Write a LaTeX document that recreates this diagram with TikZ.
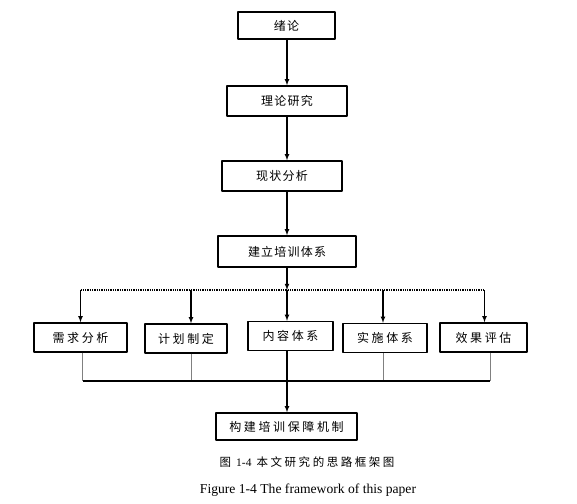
\documentclass[tikz,border=0pt]{standalone}
\usepackage{fontspec}
\setmainfont{Liberation Serif}
\newfontfamily\cjk[LetterSpace=10]{Noto Sans CJK SC}
\newfontfamily\cjkbreed[LetterSpace=22]{Noto Sans CJK SC}
\usetikzlibrary{calc}

\begin{document}
\begin{tikzpicture}[x=1pt, y=-1pt, line join=round, >=latex,
    blok/.style={draw, line width=1.4pt, inner sep=0pt, minimum height=29pt,
      font=\cjk\fontsize{12}{14}\selectfont},
    rijblok/.style={blok, font=\cjkbreed\fontsize{12}{14}\selectfont},
    pijl/.style={->, line width=1.1pt},
    stippel/.style={densely dotted, line width=1.3pt},
    grijs/.style={line width=1pt, gray},
    bundellijn/.style={line width=1.6pt}]
        \useasboundingbox (0,0) rectangle (577,503);

        % Hulpcoordinaten
        \coordinate (as) at (287,0);
        \coordinate (splits) at (287,290);
        \coordinate (bundel) at (287,381);

        % Hoofdlijn
        \node[blok, minimum width=97pt, minimum height=27pt] (inleiding) at (286.5,25.5) {绪论};
        \node[blok, minimum width=120pt, minimum height=30pt] (theorie) at (287,101) {理论研究};
        \node[blok, minimum width=120pt, minimum height=30pt] (huidig) at (282,176) {现状分析};
        \node[blok, minimum width=138pt, minimum height=31pt] (systeem) at (287,251.5) {建立培训体系};

        % Rij van vijf onderdelen
        \node[rijblok, minimum width=93pt] (behoefte) at (80.5,337.5) {需求分析};
        \node[rijblok, minimum width=82pt] (plan) at (186,338.5) {计划制定};
        \node[rijblok, minimum width=85pt] (inhoud) at (290.5,336) {内容体系};
        \node[rijblok, minimum width=84pt] (uitvoering) at (385,338) {实施体系};
        \node[rijblok, minimum width=87pt] (evaluatie) at (483.5,337.5) {效果评估};

        % Slotblok
        \node[rijblok, minimum width=141pt, minimum height=27pt] (borging) at (286.5,426.5) {构建培训保障机制};

        % Pijlen langs de hoofdlijn
        \draw[pijl] (inleiding.south -| as) -- (theorie.north -| as);
        \draw[pijl] (theorie.south -| as) -- (huidig.north -| as);
        \draw[pijl] (huidig.south -| as) -- (systeem.north -| as);
        \draw[pijl] (systeem.south -| as) -- (splits);

        % Verdeellijn (gestippeld) en pijlen naar de rij
        \draw[stippel] (behoefte.north |- splits) -- ([xshift=1pt]evaluatie.north |- splits);
        \draw[pijl] (behoefte.north |- splits) -- (behoefte.north);
        \draw[pijl] ([xshift=5pt]plan.north |- splits) -- ([xshift=5pt]plan.north);
        \draw[pijl] (splits) -- (inhoud.north -| splits);
        \draw[pijl] ([xshift=-2pt]uitvoering.north |- splits) -- ([xshift=-2pt]uitvoering.north);
        \draw[pijl] ([xshift=1pt]evaluatie.north |- splits) -- ([xshift=1pt]evaluatie.north);

        % Verzamellijn onderaan
        \draw[grijs] ([xshift=2pt]behoefte.south) -- ([xshift=2pt]behoefte.south |- bundel);
        \draw[grijs] ([xshift=5pt]plan.south) -- ([xshift=5pt]plan.south |- bundel);
        \draw[grijs] ([xshift=-2pt]uitvoering.south) -- ([xshift=-2pt]uitvoering.south |- bundel);
        \draw[grijs] ([xshift=6.5pt]evaluatie.south) -- ([xshift=6.5pt]evaluatie.south |- bundel);
        \draw[bundellijn] ([xshift=2pt]behoefte.south |- bundel) -- ([xshift=6.5pt]evaluatie.south |- bundel);
        \draw[pijl] (inhoud.south -| as) -- (borging.north -| as);

        % Bijschriften
        \node[inner sep=0pt, font=\cjkbreed\fontsize{11.5}{13}\selectfont] (bijschrift) at (307,462) {图 {\rmfamily 1-4} 本文研究的思路框架图};
        \node[inner sep=0pt, font=\fontsize{13.6}{15}\selectfont] (caption) at (308,490) {Figure 1-4 The framework of this paper};
\end{tikzpicture}
\end{document}
